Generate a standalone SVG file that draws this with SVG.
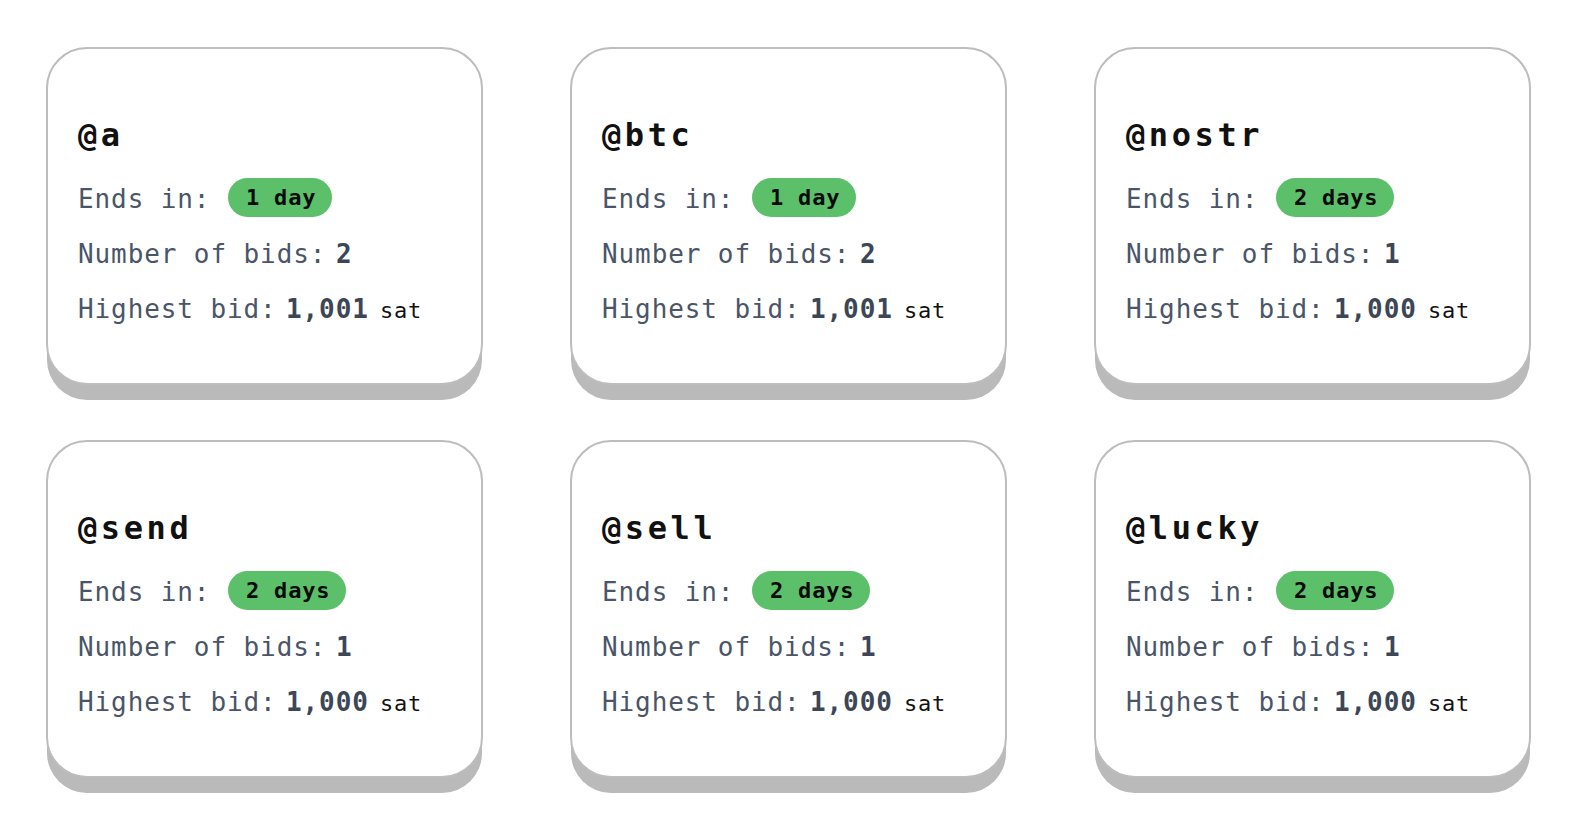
<svg xmlns="http://www.w3.org/2000/svg" width="1574" height="836" viewBox="0 0 1574 836">
<style>
.shadow{fill:#bababa}
.card{fill:#ffffff;stroke:#bdbdbd;stroke-width:2}
.title{font-family:"DejaVu Sans Mono","Liberation Mono",monospace;font-weight:bold;font-size:32px;letter-spacing:3.6px;fill:#111111}
.lbl{font-family:"DejaVu Sans Mono","Liberation Mono",monospace;font-size:26px;letter-spacing:0.9px;fill:#4a5568}
.val{font-family:"DejaVu Sans Mono","Liberation Mono",monospace;font-size:26px;letter-spacing:0.9px;font-weight:bold;fill:#3d4656}
.unit{font-family:"DejaVu Sans Mono","Liberation Mono",monospace;font-size:22px;letter-spacing:0.8px;fill:#111111}
.pill{fill:#5cbf69}
.pilltxt{font-family:"DejaVu Sans Mono","Liberation Mono",monospace;font-size:22px;letter-spacing:0.8px;font-weight:bold;fill:#0a0a0a}
</style>
<defs>
<g id="cardbase">
<rect class="shadow" x="0" y="16" width="435" height="336" rx="40"/>
<rect class="card" x="0" y="0" width="435" height="336" rx="40"/>
<text class="lbl" x="31" y="160">Ends in:</text>
<text class="lbl" x="31" y="215">Number of bids:</text>
<text class="lbl" x="31" y="270">Highest bid:</text>
<text class="unit" x="333" y="270">sat</text>
</g>
</defs>
<g id="connectors"></g>
<g id="node-a" transform="translate(47,48)">
<use href="#cardbase"/>
<text class="title" x="31" y="98">@a</text>
<rect class="pill" x="181" y="130" width="104" height="39" rx="19.5"/>
<text class="pilltxt" x="199" y="157">1 day</text>
<text class="val" x="289" y="215">2</text>
<text class="val" x="239" y="270">1,001</text>
</g>
<g id="node-btc" transform="translate(571,48)">
<use href="#cardbase"/>
<text class="title" x="31" y="98">@btc</text>
<rect class="pill" x="181" y="130" width="104" height="39" rx="19.5"/>
<text class="pilltxt" x="199" y="157">1 day</text>
<text class="val" x="289" y="215">2</text>
<text class="val" x="239" y="270">1,001</text>
</g>
<g id="node-nostr" transform="translate(1095,48)">
<use href="#cardbase"/>
<text class="title" x="31" y="98">@nostr</text>
<rect class="pill" x="181" y="130" width="118" height="39" rx="19.5"/>
<text class="pilltxt" x="199" y="157">2 days</text>
<text class="val" x="289" y="215">1</text>
<text class="val" x="239" y="270">1,000</text>
</g>
<g id="node-send" transform="translate(47,441)">
<use href="#cardbase"/>
<text class="title" x="31" y="98">@send</text>
<rect class="pill" x="181" y="130" width="118" height="39" rx="19.5"/>
<text class="pilltxt" x="199" y="157">2 days</text>
<text class="val" x="289" y="215">1</text>
<text class="val" x="239" y="270">1,000</text>
</g>
<g id="node-sell" transform="translate(571,441)">
<use href="#cardbase"/>
<text class="title" x="31" y="98">@sell</text>
<rect class="pill" x="181" y="130" width="118" height="39" rx="19.5"/>
<text class="pilltxt" x="199" y="157">2 days</text>
<text class="val" x="289" y="215">1</text>
<text class="val" x="239" y="270">1,000</text>
</g>
<g id="node-lucky" transform="translate(1095,441)">
<use href="#cardbase"/>
<text class="title" x="31" y="98">@lucky</text>
<rect class="pill" x="181" y="130" width="118" height="39" rx="19.5"/>
<text class="pilltxt" x="199" y="157">2 days</text>
<text class="val" x="289" y="215">1</text>
<text class="val" x="239" y="270">1,000</text>
</g>
</svg>
